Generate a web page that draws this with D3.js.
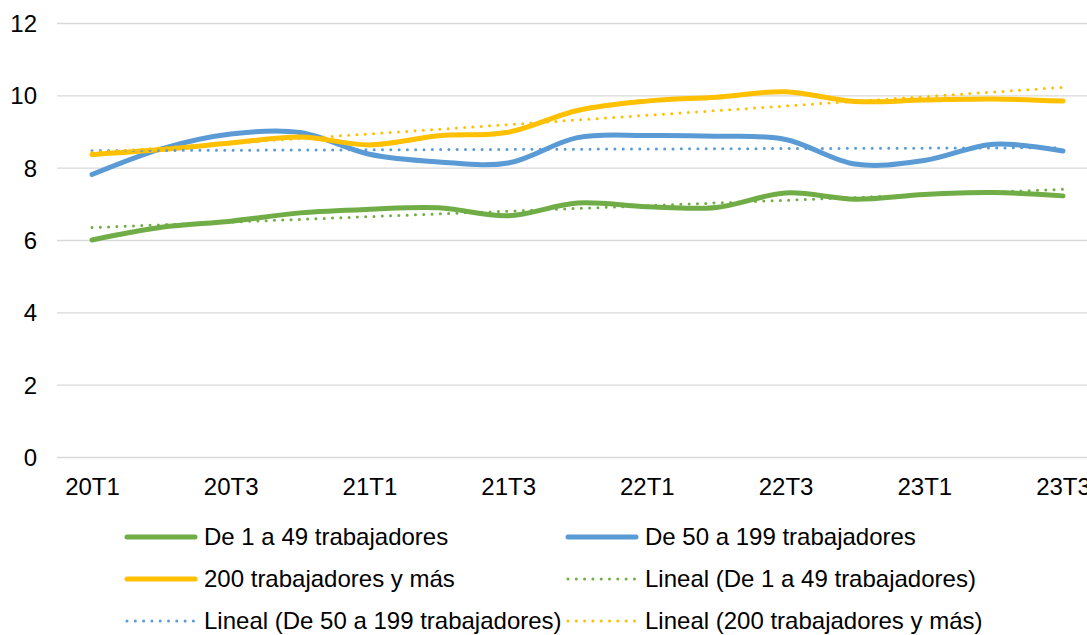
<!DOCTYPE html>
<html>
<head>
<meta charset="utf-8">
<script src="https://cdn.jsdelivr.net/npm/d3@7"></script>
<style>
  body { margin: 0; background: #fff; }
  text { font-family: "Liberation Sans", Arial, sans-serif; }
</style>
</head>
<body>
<div id="chart"></div>
<script>
var width = 1087,
    height = 635;

// quarters
var categories = ["20T1","20T2","20T3","20T4","21T1","21T2","21T3","21T4",
                  "22T1","22T2","22T3","22T4","23T1","23T2","23T3"];
var tickLabels = ["20T1","20T3","21T1","21T3","22T1","22T3","23T1","23T3"];
var yTicks = [0, 2, 4, 6, 8, 10, 12];

var small  = [6.0, 6.35, 6.52, 6.75, 6.85, 6.89, 6.67, 7.02, 6.92, 6.9, 7.3, 7.13, 7.26, 7.31, 7.22];
var medium = [7.81, 8.52, 8.93, 8.97, 8.37, 8.16, 8.13, 8.83, 8.89, 8.87, 8.78, 8.1, 8.2, 8.65, 8.46];
var large  = [8.36, 8.5, 8.68, 8.85, 8.63, 8.88, 8.98, 9.58, 9.84, 9.95, 10.1, 9.83, 9.87, 9.9, 9.84];

var seriesNames = ["De 1 a 49 trabajadores", "De 50 a 199 trabajadores", "200 trabajadores y más"];
var colors = ["#70AD47", "#5B9BD5", "#FFC000"];

var svg = d3.select("#chart").append("svg")
  .attr("width", width)
  .attr("height", height);

var plotLeft = 57, plotRight = width;

var x = d3.scalePoint()
  .domain(categories)
  .range([92, 1063]);

var y = d3.scaleLinear()
  .domain([0, 12])
  .range([457, 23]);

// y axis + gridlines
var yAxis = svg.append("g")
  .attr("transform", "translate(" + plotLeft + ",0)")
  .call(d3.axisLeft(y).tickValues(yTicks).tickSize(-(plotRight - plotLeft)).tickPadding(20));
yAxis.select(".domain").remove();
yAxis.selectAll(".tick line").attr("stroke", "#d9d9d9").attr("stroke-width", 1.4);
yAxis.selectAll(".tick text")
  .attr("font-size", 24)
  .attr("fill", "#000")
  .attr("dy", "0.35em");

// x axis labels
var xAxis = svg.append("g")
  .attr("transform", "translate(0," + y(0) + ")")
  .call(d3.axisBottom(x).tickValues(tickLabels).tickSize(0));
xAxis.select(".domain").remove();
xAxis.selectAll(".tick text")
  .attr("font-size", 24)
  .attr("fill", "#000")
  .attr("y", 38)
  .attr("dy", 0);

var allSeries = [small, medium, large];

var line = d3.line()
  .x(function(d, i) { return x(categories[i]); })
  .y(function(d) { return y(d); })
  .curve(d3.curveCatmullRom.alpha(0));

// linear trend (least squares on quarter index)
function trend(vals) {
  var n = vals.length;
  var mx = d3.mean(vals, function(d, i) { return i; });
  var my = d3.mean(vals);
  var num = 0, den = 0;
  vals.forEach(function(v, i) { num += (i - mx) * (v - my); den += (i - mx) * (i - mx); });
  var b = num / den, a = my - b * mx;
  return [[0, a], [n - 1, a + b * (n - 1)]];
}

var lines = svg.append("g");
allSeries.forEach(function(vals, k) {
  lines.append("path")
    .attr("d", line(vals))
    .attr("fill", "none")
    .attr("stroke", colors[k])
    .attr("stroke-width", 5)
    .attr("stroke-linecap", "round");
});

allSeries.forEach(function(vals, k) {
  var t = trend(vals);
  lines.append("line")
    .attr("x1", x(categories[t[0][0]]))
    .attr("y1", y(t[0][1]))
    .attr("x2", x(categories[t[1][0]]))
    .attr("y2", y(t[1][1]))
    .attr("stroke", colors[k])
    .attr("stroke-width", 3)
    .attr("stroke-linecap", "round")
    .attr("stroke-dasharray", "0 8.3");
});

// legend
var legendItems = [
  {name: seriesNames[0], color: colors[0], dotted: false},
  {name: seriesNames[1], color: colors[1], dotted: false},
  {name: seriesNames[2], color: colors[2], dotted: false},
  {name: "Lineal (" + seriesNames[0] + ")", color: colors[0], dotted: true},
  {name: "Lineal (" + seriesNames[1] + ")", color: colors[1], dotted: true},
  {name: "Lineal (" + seriesNames[2] + ")", color: colors[2], dotted: true}
];
var colX = [127, 568], rowY = [537, 579, 621];

var legend = svg.append("g")
  .selectAll("g")
  .data(legendItems)
  .enter().append("g")
  .attr("transform", function(d, i) { return "translate(" + colX[i % 2] + "," + rowY[Math.floor(i / 2)] + ")"; });

legend.append("line")
  .attr("x1", 0).attr("x2", 68)
  .attr("stroke", function(d) { return d.color; })
  .attr("stroke-width", function(d) { return d.dotted ? 3 : 5; })
  .attr("stroke-linecap", "round")
  .attr("stroke-dasharray", function(d) { return d.dotted ? "0 8.3" : null; });

legend.append("text")
  .attr("x", 77)
  .attr("dy", "0.35em")
  .attr("font-size", 24)
  .attr("fill", "#000")
  .text(function(d) { return d.name; });
</script>
</body>
</html>
